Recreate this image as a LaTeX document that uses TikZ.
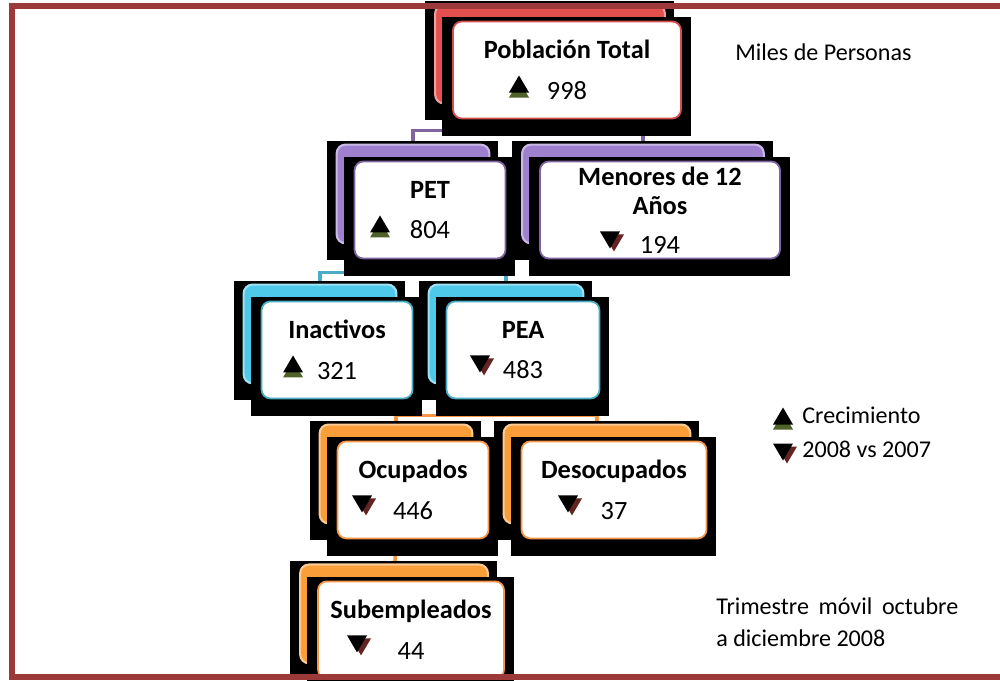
\documentclass[tikz,border=0pt]{standalone}
\usepackage{fontspec}
\setmainfont{Carlito}
\usetikzlibrary{shapes,arrows,backgrounds}
\definecolor{tred}{HTML}{D24F4C}
\definecolor{tpurple}{HTML}{8064A2}
\definecolor{tcyan}{HTML}{4BACC6}
\definecolor{torange}{HTML}{F79646}
\definecolor{tabred}{HTML}{E3504E}
\definecolor{tabpurple}{HTML}{9E80CF}
\definecolor{tabcyan}{HTML}{4EC9EA}
\definecolor{taborange}{HTML}{FA9E3A}
\definecolor{tgreen}{HTML}{4F6228}
\definecolor{tbrown}{HTML}{632523}
\definecolor{tframe}{HTML}{9B3A38}
\tikzstyle{box} = [rectangle, rounded corners=5pt, fill=white, line width=1pt, minimum width=3.02cm, minimum height=1.94cm, align=center, inner sep=0.5pt, font=\fontsize{15}{16.5}\selectfont\bfseries]
\tikzstyle{link} = [line width=2pt]
\tikzstyle{note} = [anchor=west, inner sep=0pt, font=\fontsize{13.7}{16.5}\selectfont]
\tikzset{
  uptri/.pic={
    \fill[tgreen] (-10,-13.5) -- (10,-13.5) -- (0,3.5) -- cycle;
    \fill[black] (-10,-8.5) -- (10,-8.5) -- (0,8.5) -- cycle;
  },
  downtri/.pic={
    \fill[tbrown] (-6,5.5) -- (14,5.5) -- (4,-11.5) -- cycle;
    \fill[black] (-10,8.5) -- (10,8.5) -- (0,-8.5) -- cycle;
  }
}

\begin{document}
\begin{tikzpicture}[x=0.02cm, y=0.02cm, node distance=2.8cm]
\useasboundingbox (0,0) rectangle (1000,-680);

\node (total) [box, draw=tred, minimum width=4.56cm] at (567,-70) {Población Total\\[6.5pt]{\mdseries 998}};
\node (pet) [box, draw=tpurple, below of=total, xshift=-2.74cm] {PET\\[6.5pt]{\mdseries 804}};
\node (menores) [box, draw=tpurple, below of=total, xshift=1.86cm, minimum width=4.8cm] {Menores de 12\\Años\\[5.5pt]{\mdseries 194}};
\node (inactivos) [box, draw=tcyan, below of=pet, xshift=-1.86cm] {Inactivos\\[6.5pt]{\mdseries 321}};
\node (pea) [box, draw=tcyan, below of=pet, xshift=1.86cm, minimum width=3.06cm] {PEA\\[6.5pt]{\mdseries 483}};
\node (ocupados) [box, draw=torange, below of=pea, xshift=-2.2cm] {Ocupados\\[6.5pt]{\mdseries 446}};
\node (desocupados) [box, draw=torange, below of=pea, xshift=1.82cm, minimum width=3.7cm] {Desocupados\\[6.5pt]{\mdseries 37}};
\node (subempleados) [box, draw=torange, below of=ocupados, xshift=-0.04cm, minimum width=3.72cm] {Subempleados\\[6.5pt]{\mdseries 44}};

\pic at ([shift={(-48,-14)}]total.center) {uptri};
\pic at ([shift={(-50,-14)}]pet.center) {uptri};
\pic at ([shift={(-50,-30)}]menores.center) {downtri};
\pic at ([shift={(-44,-14)}]inactivos.center) {uptri};
\pic at ([shift={(-43,-14)}]pea.center) {downtri};
\pic at ([shift={(-51,-14)}]ocupados.center) {downtri};
\pic at ([shift={(-46,-14)}]desocupados.center) {downtri};
\pic at ([shift={(-54,-14)}]subempleados.center) {downtri};

\begin{scope}[on background layer]
\draw [link, tpurple] ([xshift=-0.34cm]total.south) -- ++(0,-11) -| ([xshift=-0.34cm]pet.north);
\draw [link, tpurple] ([xshift=-0.34cm]total.south) -- ++(0,-11) -| ([xshift=-0.34cm]menores.north);
\draw [link, tcyan] ([xshift=-0.34cm]pet.south) -- ++(0,-13) -| ([xshift=-0.34cm]inactivos.north);
\draw [link, tcyan] ([xshift=-0.34cm]pet.south) -- ++(0,-13) -| ([xshift=-0.34cm]pea.north);
\draw [link, torange] ([xshift=-0.34cm]pea.south) -- ++(0,-16) -| ([xshift=-0.34cm]ocupados.north);
\draw [link, torange] ([xshift=-0.34cm]pea.south) -- ++(0,-16) -| ([xshift=-0.34cm]desocupados.north);
\draw [link, torange] ([xshift=-0.34cm]ocupados.south) -- ([xshift=-0.34cm]subempleados.north);
\foreach \n/\c in {total/tabred, pet/tabpurple, menores/tabpurple, inactivos/tabcyan, pea/tabcyan, ocupados/taborange, desocupados/taborange, subempleados/taborange}{
  \fill ([shift={(-27,20)}]\n.north west) rectangle ([shift={(-8,-1)}]\n.south east);
  \filldraw [rounded corners=5pt, fill=\c, draw=\c!55!white, line width=1.2pt] ([shift={(-17,16)}]\n.north west) rectangle ([shift={(-17,16)}]\n.south east);
  \fill ([shift={(-10,4)}]\n.north west) rectangle ([shift={(9,-17)}]\n.south east);
}
\end{scope}

% notes
\node (unidad) [note] at (735,-52) {Miles de Personas};
\pic at (783,-416) {uptri};
\node (crecimiento) [note] at (802,-415) {Crecimiento};
\pic at (783,-452) {downtri};
\node (anios) [note] at (802,-449) {2008 vs 2007};
\node (periodo) [note, align=left] at (716,-622) {\makebox[4.84cm][s]{Trimestre móvil octubre}\\[2pt]a diciembre 2008};

\draw [line width=0.12cm, tframe] (12,-6) rectangle (1010,-677);

\end{tikzpicture}
\end{document}
